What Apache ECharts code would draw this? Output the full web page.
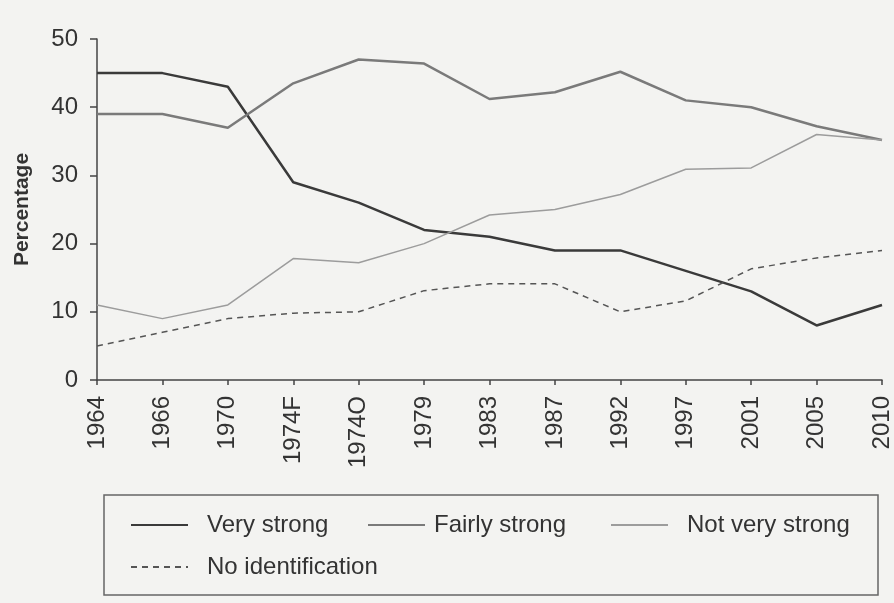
<!DOCTYPE html>
<html>
<head>
<meta charset="utf-8">
<script src="https://cdn.jsdelivr.net/npm/echarts@6/dist/echarts.min.js"></script>
<style>
  html, body { margin: 0; padding: 0; background: #f3f3f1; }
  #chart { width: 894px; height: 603px; }
</style>
</head>
<body>
<div id="chart"></div>
<script>
const years = ["1964", "1966", "1970", "1974F", "1974O", "1979", "1983", "1987", "1992", "1997", "2001", "2005", "2010"];
const veryStrong = [45, 45, 43, 29, 26, 22, 21, 19, 19, 16, 13, 8, 11];
const fairlyStrong = [39, 39, 37, 43.5, 47, 46.4, 41.2, 42.2, 45.2, 41, 40, 37.2, 35.2];
const notVeryStrong = [11, 9, 11, 17.8, 17.2, 20, 24.2, 25, 27.2, 30.9, 31.1, 36, 35.2];
const noIdentification = [5, 7, 9, 9.8, 10, 13.1, 14.1, 14.1, 10, 11.6, 16.3, 17.9, 19];

const font = "'Liberation Sans', Arial, sans-serif";

const chart = echarts.init(document.getElementById("chart"));

// one legend per item so each sits where the figure has it
const legendItem = (name, left, top, gap) => ({
  data: [name],
  left: left,
  top: top,
  padding: 0,
  itemWidth: 57,
  itemHeight: 14,
  selectedMode: false,
  itemStyle: { color: "transparent", borderColor: "transparent", borderWidth: 0 },
  textStyle: {
    fontFamily: font,
    fontSize: 24,
    color: "#333",
    lineHeight: 26,
    padding: [0, 0, 0, gap],
  },
});

const option = {
  backgroundColor: "#f3f3f1",
  animation: false,
  grid: {
    left: 97,
    right: 11,
    top: 39,
    bottom: 223,
  },
  graphic: [
    {
      type: "rect",
      shape: { x: 104, y: 495, width: 774, height: 100 },
      style: { fill: "none", stroke: "#666", lineWidth: 1.5 },
    },
  ],
  legend: [
    legendItem("Very strong", 130, 512, 14),
    legendItem("Fairly strong", 367, 512, 4),
    legendItem("Not very strong", 610, 512, 14),
    legendItem("No identification", 130, 554, 14),
  ],
  xAxis: {
    type: "category",
    data: years,
    boundaryGap: false,
    axisLine: { lineStyle: { color: "#444", width: 1.5 } },
    axisTick: { alignWithLabel: true, length: 5, lineStyle: { color: "#444", width: 1.5 } },
    axisLabel: {
      rotate: 90,
      margin: 16,
      fontFamily: font,
      fontSize: 24,
      color: "#333",
      interval: 0,
    },
  },
  yAxis: {
    type: "value",
    min: 0,
    max: 50,
    interval: 10,
    name: "Percentage",
    nameLocation: "middle",
    nameGap: 64,
    nameTextStyle: {
      fontFamily: font,
      fontSize: 21,
      fontWeight: "bold",
      color: "#333",
    },
    axisLine: { show: true, lineStyle: { color: "#444", width: 1.5 } },
    axisTick: { show: true, length: 7, lineStyle: { color: "#444", width: 1.5 } },
    splitLine: { show: false },
    axisLabel: {
      margin: 19,
      fontFamily: font,
      fontSize: 24,
      color: "#333",
    },
  },
  series: [
    {
      name: "Very strong",
      type: "line",
      data: veryStrong,
      symbol: "none",
      color: "#3a3a3a",
      lineStyle: { color: "#3a3a3a", width: 2.5 },
    },
    {
      name: "Fairly strong",
      type: "line",
      data: fairlyStrong,
      symbol: "none",
      color: "#7a7a7a",
      lineStyle: { color: "#7a7a7a", width: 2.5 },
    },
    {
      name: "Not very strong",
      type: "line",
      data: notVeryStrong,
      symbol: "none",
      color: "#9c9c9c",
      lineStyle: { color: "#9c9c9c", width: 1.5 },
    },
    {
      name: "No identification",
      type: "line",
      data: noIdentification,
      symbol: "none",
      color: "#555",
      lineStyle: { color: "#555", width: 1.5, type: [6, 5] },
    },
  ],
};

chart.setOption(option);
</script>
</body>
</html>
